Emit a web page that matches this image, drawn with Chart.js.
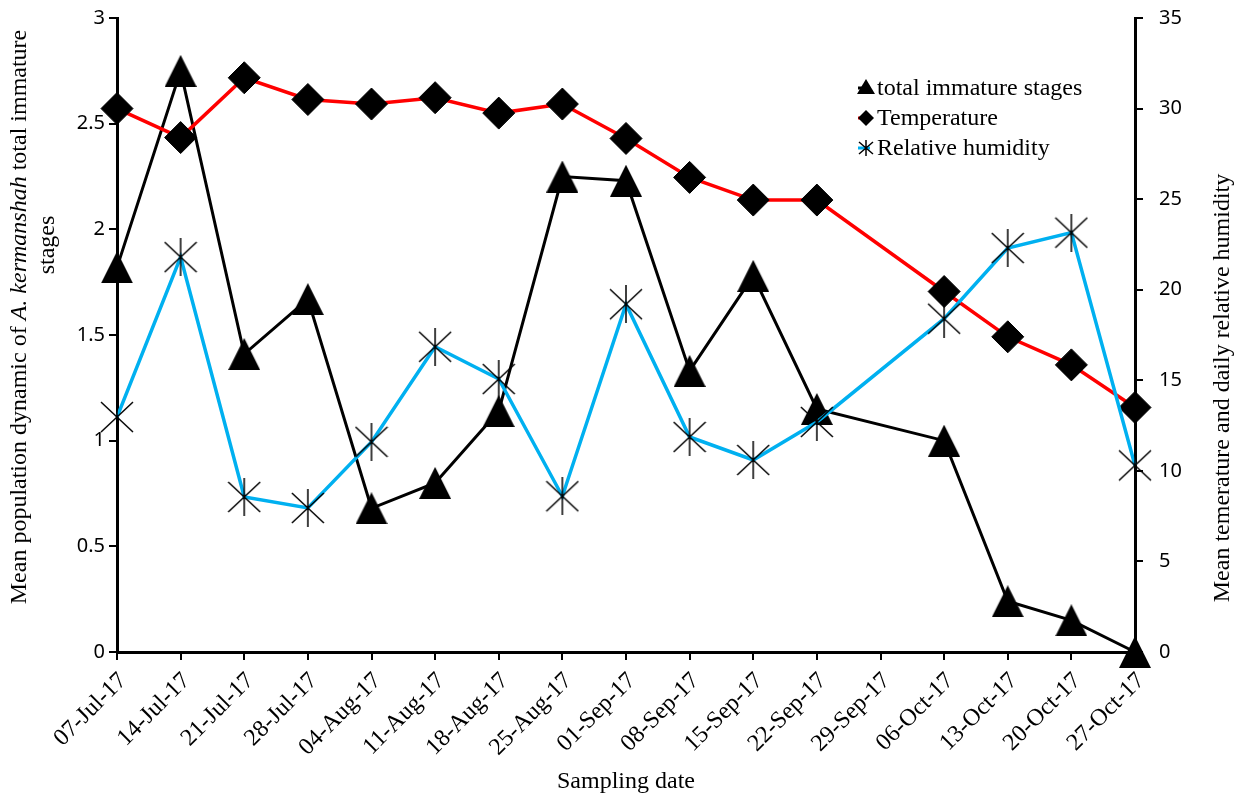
<!DOCTYPE html>
<html>
<head>
<meta charset="utf-8">
<script src="https://cdn.jsdelivr.net/npm/chart.js"></script>
<style>
  html, body { margin: 0; padding: 0; background: #fff; }
  canvas { display: block; }
</style>
</head>
<body>
<canvas id="chart1" width="1245" height="800"></canvas>
<script>
// data (29-Sep-17 has no sample)
const dates = ["07-Jul-17", "14-Jul-17", "21-Jul-17", "28-Jul-17", "04-Aug-17", "11-Aug-17",
  "18-Aug-17", "25-Aug-17", "01-Sep-17", "08-Sep-17", "15-Sep-17", "22-Sep-17",
  "29-Sep-17", "06-Oct-17", "13-Oct-17", "20-Oct-17", "27-Oct-17"];
const immature = [1.82, 2.75, 1.41, 1.67, 0.68, 0.80, 1.14, 2.25, 2.23, 1.33, 1.78, 1.15,
  null, 1.0, 0.24, 0.15, 0];
const temperature = [30.0, 28.4, 31.7, 30.5, 30.25, 30.6, 29.75, 30.25, 28.35, 26.2, 24.95, 24.95,
  null, 19.9, 17.4, 15.85, 13.5];
const humidity = [12.97, 21.8, 8.56, 7.95, 11.6, 16.85, 15.07, 8.6, 19.2, 11.87, 10.6, 12.7,
  null, 18.4, 22.3, 23.15, 10.3];
const seriesNames = ["total immature stages", "Temperature", "Relative humidity"];

const serif = "'Liberation Serif', 'Times New Roman', serif";
const sans = "'Noto Sans', 'Open Sans', sans-serif";

// excel-like markers
function triangleMarker(size) {
  const c = document.createElement("canvas");
  c.width = size; c.height = size;
  const g = c.getContext("2d");
  g.fillStyle = "black";
  g.beginPath();
  g.moveTo(size / 2, 0);
  g.lineTo(size, size);
  g.lineTo(0, size);
  g.closePath();
  g.fill();
  return c;
}
function starMarker(w, h) {
  const c = document.createElement("canvas");
  c.width = w; c.height = h;
  const g = c.getContext("2d");
  g.strokeStyle = "black";
  g.lineWidth = 1.5;
  g.beginPath();
  g.moveTo(1, 4); g.lineTo(w - 1, h - 4);
  g.moveTo(w - 1, 4); g.lineTo(1, h - 4);
  g.moveTo(w / 2, 0); g.lineTo(w / 2, h);
  g.stroke();
  return c;
}

const titlesAndLegend = {
  id: "titlesAndLegend",
  afterDraw(chart) {
    const ctx = chart.ctx;
    ctx.save();
    ctx.fillStyle = "black";
    ctx.textBaseline = "middle";

    // left axis title, two lines, with italic species name
    const parts = [
      ["Mean population dynamic of ", "24px " + serif],
      ["A. kermanshah", "italic 24px " + serif],
      [" total immature", "24px " + serif],
    ];
    let total = 0;
    parts.forEach(p => { ctx.font = p[1]; total += ctx.measureText(p[0]).width; });
    ctx.save();
    ctx.translate(20, 317);
    ctx.rotate(-Math.PI / 2);
    ctx.textAlign = "left";
    let px = -total / 2;
    parts.forEach(p => { ctx.font = p[1]; ctx.fillText(p[0], px, 0); px += ctx.measureText(p[0]).width; });
    ctx.restore();

    ctx.save();
    ctx.translate(48, 245);
    ctx.rotate(-Math.PI / 2);
    ctx.textAlign = "center";
    ctx.font = "24px " + serif;
    ctx.fillText("stages", 0, 0);
    ctx.restore();

    // right axis title
    ctx.save();
    ctx.translate(1223, 388);
    ctx.rotate(-Math.PI / 2);
    ctx.textAlign = "center";
    ctx.font = "24px " + serif;
    ctx.fillText("Mean temerature and daily relative humidity", 0, 0);
    ctx.restore();

    // legend
    const mx = 866, tx = 877;
    const rows = [88, 118, 148];
    ctx.font = "24px " + serif;
    ctx.textAlign = "left";
    seriesNames.forEach((name, i) => {
      const y = rows[i];
      ctx.lineWidth = 3;
      ctx.strokeStyle = ["black", "red", "#00b0f0"][i];
      ctx.beginPath(); ctx.moveTo(mx - 8, y); ctx.lineTo(mx + 4, y); ctx.stroke();
      ctx.fillStyle = "black";
      ctx.strokeStyle = "black";
      ctx.beginPath();
      if (i === 0) {
        ctx.moveTo(mx, y - 9); ctx.lineTo(mx + 9, y + 6); ctx.lineTo(mx - 9, y + 6); ctx.closePath(); ctx.fill();
      } else if (i === 1) {
        ctx.moveTo(mx, y - 8); ctx.lineTo(mx + 8, y); ctx.lineTo(mx, y + 8); ctx.lineTo(mx - 8, y); ctx.closePath(); ctx.fill();
      } else {
        ctx.lineWidth = 1.5;
        ctx.moveTo(mx - 7, y - 6); ctx.lineTo(mx + 7, y + 6);
        ctx.moveTo(mx + 7, y - 6); ctx.lineTo(mx - 7, y + 6);
        ctx.moveTo(mx, y - 8); ctx.lineTo(mx, y + 8);
        ctx.stroke();
      }
      ctx.fillText(name, tx, y + 1);
    });
    ctx.restore();
  }
};

const axisGrid = { drawOnChartArea: false, drawTicks: true, tickLength: 8, color: "black", lineWidth: 2 };
const axisBorder = { display: true, color: "black", width: 3 };

// keep the plot box fixed, ignore label overhang padding
function fixBox(w, h) {
  return s => {
    if (w) s.width = w;
    if (h) s.height = h;
    s.paddingTop = 0; s.paddingBottom = 0;
    s.paddingLeft = 0; s.paddingRight = 0;
  };
}

const ctx = document.querySelector("#chart1").getContext("2d");
const chart = new Chart(ctx, {
  type: "line",
  data: {
    labels: dates,
    datasets: [
      {
        label: seriesNames[0],
        data: immature,
        yAxisID: "y",
        borderColor: "black",
        borderWidth: 3,
        pointStyle: triangleMarker(32),
        spanGaps: true,
        clip: false,
        order: 2,
      },
      {
        label: seriesNames[1],
        data: temperature,
        yAxisID: "y1",
        borderColor: "#ff0000",
        borderWidth: 3.5,
        pointStyle: "rectRot",
        pointRadius: 16,
        pointBackgroundColor: "black",
        pointBorderColor: "black",
        pointBorderWidth: 1,
        spanGaps: true,
        clip: false,
        order: 1,
      },
      {
        label: seriesNames[2],
        data: humidity,
        yAxisID: "y1",
        borderColor: "#00b0f0",
        borderWidth: 3.5,
        pointStyle: starMarker(34, 38),
        spanGaps: true,
        clip: false,
        order: 0,
      },
    ],
  },
  options: {
    responsive: false,
    animation: false,
    devicePixelRatio: 1,
    layout: { padding: { top: 18, left: 0, right: 0, bottom: 0 } },
    plugins: {
      legend: { display: false },
      tooltip: { enabled: false },
    },
    scales: {
      x: {
        grid: axisGrid,
        border: axisBorder,
        ticks: {
          color: "black",
          font: { family: serif, size: 24 },
          minRotation: 45,
          maxRotation: 45,
          autoSkip: false,
          padding: 7,
          labelOffset: 6,
        },
        title: {
          display: true,
          text: "Sampling date",
          color: "black",
          font: { family: serif, size: 24 },
          padding: { top: 0, bottom: 4 },
        },
        afterFit: fixBox(0, 148),
      },
      y: {
        position: "left",
        min: 0,
        max: 3,
        grid: axisGrid,
        border: axisBorder,
        ticks: {
          stepSize: 0.5,
          color: "black",
          font: { family: sans, size: 20 },
          padding: 4,
          callback: v => String(v),
        },
        afterFit: fixBox(117, 0),
      },
      y1: {
        position: "right",
        min: 0,
        max: 35,
        grid: axisGrid,
        border: axisBorder,
        ticks: {
          stepSize: 5,
          color: "black",
          font: { family: sans, size: 20 },
          padding: 16,
          callback: v => String(v),
        },
        afterFit: fixBox(110, 0),
      },
    },
  },
  plugins: [titlesAndLegend],
});
</script>
</body>
</html>
